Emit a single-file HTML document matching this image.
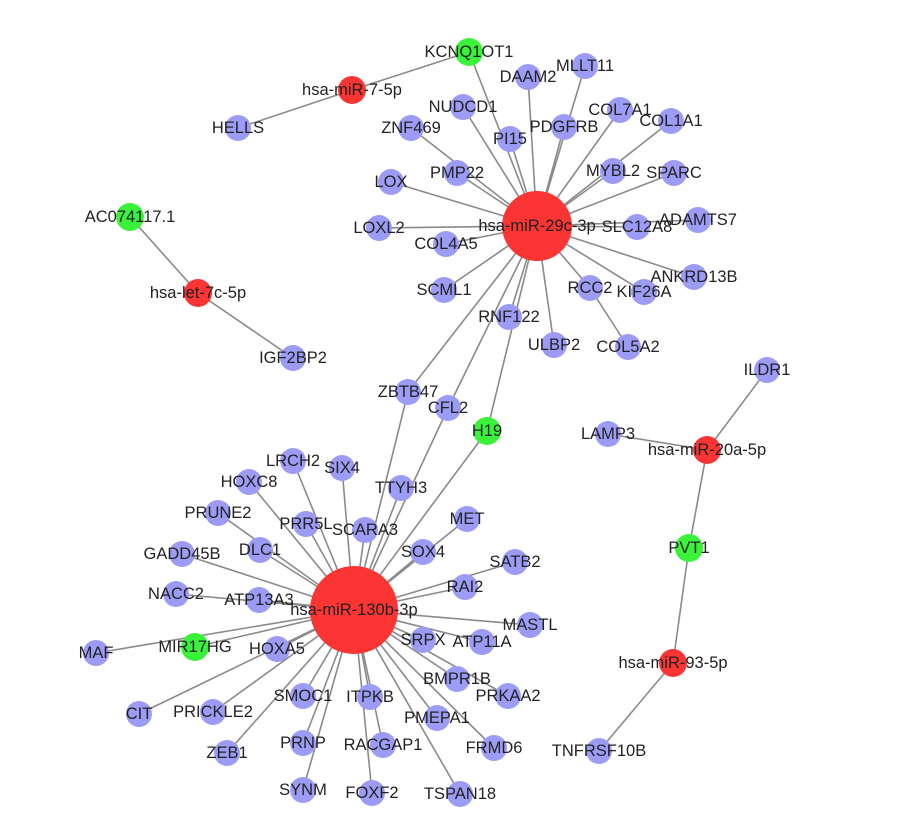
<!DOCTYPE html>
<html><head><meta charset="utf-8"><style>
html,body{margin:0;padding:0;background:#fff;}
svg{display:block;}
text{font-family:"Liberation Sans",Arial,sans-serif;font-size:16.5px;fill:#222;text-anchor:middle;dominant-baseline:central;}
line{stroke:#8a8a8a;stroke-width:1.6;}
.b{fill:#9c9cf7;}.r{fill:#fb3434;}.g{fill:#3af23a;}
</style></head><body>
<svg width="900" height="823" viewBox="0 0 900 823" xmlns="http://www.w3.org/2000/svg">
<g>
<line x1="238" y1="128" x2="352" y2="90"/><line x1="352" y1="90" x2="469" y2="52"/><line x1="469" y1="52" x2="537" y2="226"/>
<line x1="130" y1="217" x2="198" y2="293"/><line x1="198" y1="293" x2="293" y2="358"/>
<line x1="767" y1="370" x2="707" y2="450"/><line x1="608" y1="434" x2="707" y2="450"/><line x1="707" y1="450" x2="689" y2="548"/><line x1="689" y1="548" x2="673" y2="663"/><line x1="673" y1="663" x2="599" y2="751"/>
<line x1="537" y1="226" x2="528" y2="77"/><line x1="537" y1="226" x2="585" y2="66"/><line x1="537" y1="226" x2="463" y2="107"/><line x1="537" y1="226" x2="411" y2="128"/><line x1="537" y1="226" x2="510" y2="139"/><line x1="537" y1="226" x2="564" y2="127"/><line x1="537" y1="226" x2="620" y2="110"/><line x1="537" y1="226" x2="671" y2="121"/><line x1="537" y1="226" x2="457" y2="173"/><line x1="537" y1="226" x2="391" y2="182"/><line x1="537" y1="226" x2="613" y2="171"/><line x1="537" y1="226" x2="674" y2="173"/><line x1="537" y1="226" x2="379" y2="228"/><line x1="537" y1="226" x2="446" y2="244"/><line x1="537" y1="226" x2="637" y2="227"/><line x1="537" y1="226" x2="698" y2="220"/><line x1="537" y1="226" x2="444" y2="290"/><line x1="537" y1="226" x2="590" y2="288"/><line x1="537" y1="226" x2="644" y2="292"/><line x1="537" y1="226" x2="694" y2="277"/><line x1="537" y1="226" x2="509" y2="317"/><line x1="537" y1="226" x2="554" y2="345"/><line x1="590" y1="288" x2="628" y2="347"/><line x1="537" y1="226" x2="408" y2="392"/><line x1="537" y1="226" x2="448" y2="408"/><line x1="537" y1="226" x2="487" y2="431"/>
<line x1="354" y1="610" x2="408" y2="392"/><line x1="354" y1="610" x2="448" y2="408"/><line x1="354" y1="610" x2="487" y2="431"/><line x1="354" y1="610" x2="293" y2="461"/><line x1="354" y1="610" x2="342" y2="468"/><line x1="354" y1="610" x2="249" y2="482"/><line x1="354" y1="610" x2="401" y2="488"/><line x1="354" y1="610" x2="218" y2="513"/><line x1="354" y1="610" x2="467" y2="519"/><line x1="354" y1="610" x2="306" y2="524"/><line x1="354" y1="610" x2="365" y2="530"/><line x1="354" y1="610" x2="260" y2="550"/><line x1="354" y1="610" x2="182" y2="554"/><line x1="354" y1="610" x2="423" y2="552"/><line x1="354" y1="610" x2="515" y2="562"/><line x1="354" y1="610" x2="176" y2="594"/><line x1="354" y1="610" x2="259" y2="600"/><line x1="354" y1="610" x2="465" y2="587"/><line x1="354" y1="610" x2="530" y2="625"/><line x1="354" y1="610" x2="96" y2="653"/><line x1="354" y1="610" x2="195" y2="647"/><line x1="354" y1="610" x2="277" y2="649"/><line x1="354" y1="610" x2="423" y2="640"/><line x1="354" y1="610" x2="482" y2="642"/><line x1="354" y1="610" x2="457" y2="679"/><line x1="354" y1="610" x2="508" y2="696"/><line x1="354" y1="610" x2="303" y2="696"/><line x1="354" y1="610" x2="370" y2="697"/><line x1="354" y1="610" x2="139" y2="714"/><line x1="354" y1="610" x2="213" y2="712"/><line x1="354" y1="610" x2="437" y2="718"/><line x1="354" y1="610" x2="227" y2="753"/><line x1="354" y1="610" x2="303" y2="743"/><line x1="354" y1="610" x2="383" y2="745"/><line x1="354" y1="610" x2="494" y2="748"/><line x1="354" y1="610" x2="303" y2="790"/><line x1="354" y1="610" x2="372" y2="793"/><line x1="354" y1="610" x2="460" y2="794"/>
</g>
<g>
<circle class="b" cx="238" cy="128" r="13"/><circle class="r" cx="352" cy="90" r="14"/><circle class="g" cx="469" cy="52" r="14"/>
<circle class="g" cx="130" cy="217" r="14"/><circle class="r" cx="198" cy="293" r="14"/><circle class="b" cx="293" cy="358" r="13"/>
<circle class="b" cx="767" cy="370" r="13"/><circle class="b" cx="608" cy="434" r="13"/><circle class="r" cx="707" cy="450" r="14"/><circle class="g" cx="689" cy="548" r="14"/><circle class="r" cx="673" cy="663" r="14"/><circle class="b" cx="599" cy="751" r="13"/>
<circle class="b" cx="528" cy="77" r="13"/><circle class="b" cx="585" cy="66" r="13"/><circle class="b" cx="463" cy="107" r="13"/><circle class="b" cx="411" cy="128" r="13"/><circle class="b" cx="510" cy="139" r="13"/><circle class="b" cx="564" cy="127" r="13"/><circle class="b" cx="620" cy="110" r="13"/><circle class="b" cx="671" cy="121" r="13"/><circle class="b" cx="457" cy="173" r="13"/><circle class="b" cx="391" cy="182" r="13"/><circle class="b" cx="613" cy="171" r="13"/><circle class="b" cx="674" cy="173" r="13"/><circle class="b" cx="379" cy="228" r="13"/><circle class="b" cx="446" cy="244" r="13"/><circle class="b" cx="637" cy="227" r="13"/><circle class="b" cx="698" cy="220" r="13"/><circle class="b" cx="444" cy="290" r="13"/><circle class="b" cx="590" cy="288" r="13"/><circle class="b" cx="644" cy="292" r="13"/><circle class="b" cx="694" cy="277" r="13"/><circle class="b" cx="509" cy="317" r="13"/><circle class="b" cx="554" cy="345" r="13"/><circle class="b" cx="628" cy="347" r="13"/>
<circle class="b" cx="408" cy="392" r="13"/><circle class="b" cx="448" cy="408" r="13"/><circle class="g" cx="487" cy="431" r="14"/>
<circle class="b" cx="293" cy="461" r="13"/><circle class="b" cx="342" cy="468" r="13"/><circle class="b" cx="249" cy="482" r="13"/><circle class="b" cx="401" cy="488" r="13"/><circle class="b" cx="218" cy="513" r="13"/><circle class="b" cx="467" cy="519" r="13"/><circle class="b" cx="306" cy="524" r="13"/><circle class="b" cx="365" cy="530" r="13"/><circle class="b" cx="260" cy="550" r="13"/><circle class="b" cx="182" cy="554" r="13"/><circle class="b" cx="423" cy="552" r="13"/><circle class="b" cx="515" cy="562" r="13"/><circle class="b" cx="176" cy="594" r="13"/><circle class="b" cx="259" cy="600" r="13"/><circle class="b" cx="465" cy="587" r="13"/><circle class="b" cx="530" cy="625" r="13"/><circle class="b" cx="96" cy="653" r="13"/><circle class="g" cx="195" cy="647" r="14"/><circle class="b" cx="277" cy="649" r="13"/><circle class="b" cx="423" cy="640" r="13"/><circle class="b" cx="482" cy="642" r="13"/><circle class="b" cx="457" cy="679" r="13"/><circle class="b" cx="508" cy="696" r="13"/><circle class="b" cx="303" cy="696" r="13"/><circle class="b" cx="370" cy="697" r="13"/><circle class="b" cx="139" cy="714" r="13"/><circle class="b" cx="213" cy="712" r="13"/><circle class="b" cx="437" cy="718" r="13"/><circle class="b" cx="227" cy="753" r="13"/><circle class="b" cx="303" cy="743" r="13"/><circle class="b" cx="383" cy="745" r="13"/><circle class="b" cx="494" cy="748" r="13"/><circle class="b" cx="303" cy="790" r="13"/><circle class="b" cx="372" cy="793" r="13"/><circle class="b" cx="460" cy="794" r="13"/>
<circle class="r" cx="537" cy="226" r="35"/><circle class="r" cx="354" cy="610" r="44"/>
</g>
<g>
<text x="238" y="128">HELLS</text><text x="352" y="90">hsa-miR-7-5p</text><text x="469" y="52">KCNQ1OT1</text>
<text x="130" y="217">AC074117.1</text><text x="198" y="293">hsa-let-7c-5p</text><text x="293" y="358">IGF2BP2</text>
<text x="767" y="370">ILDR1</text><text x="608" y="434">LAMP3</text><text x="707" y="450">hsa-miR-20a-5p</text><text x="689" y="548">PVT1</text><text x="673" y="663">hsa-miR-93-5p</text><text x="599" y="751">TNFRSF10B</text>
<text x="528" y="77">DAAM2</text><text x="585" y="66">MLLT11</text><text x="463" y="107">NUDCD1</text><text x="411" y="128">ZNF469</text><text x="510" y="139">PI15</text><text x="564" y="127">PDGFRB</text><text x="620" y="110">COL7A1</text><text x="671" y="121">COL1A1</text><text x="457" y="173">PMP22</text><text x="391" y="182">LOX</text><text x="613" y="171">MYBL2</text><text x="674" y="173">SPARC</text><text x="379" y="228">LOXL2</text><text x="446" y="244">COL4A5</text><text x="637" y="227">SLC12A8</text><text x="698" y="220">ADAMTS7</text><text x="444" y="290">SCML1</text><text x="590" y="288">RCC2</text><text x="644" y="292">KIF26A</text><text x="694" y="277">ANKRD13B</text><text x="509" y="317">RNF122</text><text x="554" y="345">ULBP2</text><text x="628" y="347">COL5A2</text>
<text x="537" y="226">hsa-miR-29c-3p</text>
<text x="408" y="392">ZBTB47</text><text x="448" y="408">CFL2</text><text x="487" y="431">H19</text>
<text x="293" y="461">LRCH2</text><text x="342" y="468">SIX4</text><text x="249" y="482">HOXC8</text><text x="401" y="488">TTYH3</text><text x="218" y="513">PRUNE2</text><text x="467" y="519">MET</text><text x="306" y="524">PRR5L</text><text x="365" y="530">SCARA3</text><text x="260" y="550">DLC1</text><text x="182" y="554">GADD45B</text><text x="423" y="552">SOX4</text><text x="515" y="562">SATB2</text><text x="176" y="594">NACC2</text><text x="259" y="600">ATP13A3</text><text x="465" y="587">RAI2</text><text x="530" y="625">MASTL</text><text x="96" y="653">MAF</text><text x="195" y="647">MIR17HG</text><text x="277" y="649">HOXA5</text><text x="423" y="640">SRPX</text><text x="482" y="642">ATP11A</text><text x="457" y="679">BMPR1B</text><text x="508" y="696">PRKAA2</text><text x="303" y="696">SMOC1</text><text x="370" y="697">ITPKB</text><text x="139" y="714">CIT</text><text x="213" y="712">PRICKLE2</text><text x="437" y="718">PMEPA1</text><text x="227" y="753">ZEB1</text><text x="303" y="743">PRNP</text><text x="383" y="745">RACGAP1</text><text x="494" y="748">FRMD6</text><text x="303" y="790">SYNM</text><text x="372" y="793">FOXF2</text><text x="460" y="794">TSPAN18</text>
<text x="354" y="610">hsa-miR-130b-3p</text>
</g>
</svg>
</body></html>
